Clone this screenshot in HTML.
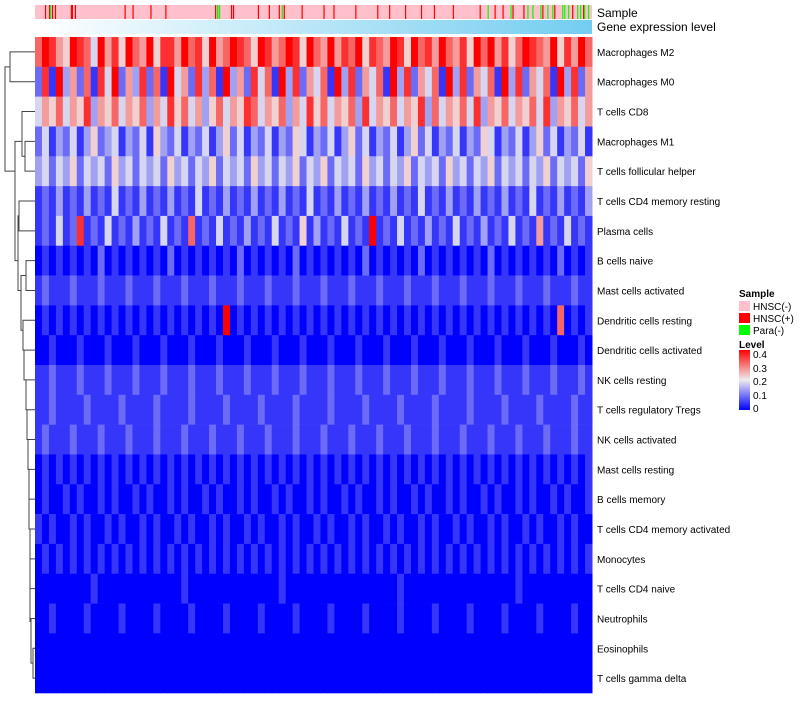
<!DOCTYPE html>
<html><head><meta charset="utf-8"><style>
body{margin:0;background:#fff;font-family:"Liberation Sans",sans-serif}
svg text{font-family:"Liberation Sans",sans-serif}
</style></head><body>
<svg id="c" width="800" height="700" xmlns="http://www.w3.org/2000/svg">
<defs>
<linearGradient id="gexp" x1="0" x2="1"><stop offset="0" stop-color="#ffffff"/><stop offset="1" stop-color="#73cdf0"/></linearGradient>
<linearGradient id="lvl" x1="0" x2="0" y1="1" y2="0"><stop offset="0" stop-color="#0000ff"/><stop offset="0.5" stop-color="#eeeeee"/><stop offset="1" stop-color="#ff0000"/></linearGradient>
</defs>
<g id="cells"></g>
<g id="samp"></g>
<rect x="35" y="20" width="557" height="14" fill="url(#gexp)"/>
<text x="597" y="17" font-size="12">Sample</text>
<text x="597" y="31" font-size="12">Gene expression level</text>
<g id="labels"></g>
<g id="dend" fill="none" stroke="#444" stroke-width="1"></g>
<g font-size="10">
<text x="739" y="297" font-weight="bold">Sample</text>
<rect x="739" y="301" width="11" height="10" fill="#ffc0cb"/><text x="753" y="310">HNSC(-)</text>
<rect x="739" y="313" width="11" height="10" fill="#ff0000"/><text x="753" y="322">HNSC(+)</text>
<rect x="739" y="325" width="11" height="10" fill="#00ff00"/><text x="753" y="334">Para(-)</text>
<text x="739" y="348" font-weight="bold">Level</text>
<rect x="739" y="350" width="11" height="60" fill="url(#lvl)"/>
<text x="753" y="358">0.4</text><text x="753" y="372">0.3</text><text x="753" y="385">0.2</text><text x="753" y="399">0.1</text><text x="753" y="412">0</text>
</g>
</svg>
<script>
const rowNames=["Macrophages M2","Macrophages M0","T cells CD8","Macrophages M1","T cells follicular helper","T cells CD4 memory resting","Plasma cells","B cells naive","Mast cells activated","Dendritic cells resting","Dendritic cells activated","NK cells resting","T cells regulatory  Tregs","NK cells activated","Mast cells resting","B cells memory","T cells CD4 memory activated","Monocytes","T cells CD4 naive","Neutrophils","Eosinophils","T cells gamma delta"];
// each digit d => level d*0.045
const rowLevels=[
"79865987496859769588697859679875986798597696879587698597869768597968579876958697",
"28193627184926382719462837193628471938264719382647193826471938264719382647193826",
"46574658365746573648574635746587465736485746573846574658374657483657465748365746",
"24132413523413241532413241352413241325413241352413241352413241325413241352413241",
"34243524342534243425342435243425342435243524342534243524342534243524342435243425",
"12131213121412131213121412131213121312141213121312131214121312131213121412131213",
"12141281214121312141217121412131214121513121412191214121312141213121412161214121",
"01010101020101010102010101010201010102010101010201010102010101010201010101020101",
"12111211121112111211121112111211121112111211121112111211121112111211121112111211",
"01010101010101010101010101090101010101010101010101010101010101010101010101070101",
"00100010001000100010001000100010001000100010001000100010001000100010001000100010",
"11211121112111211121112111211121112111211121112111211121112111211121112111211121",
"11211112111121111211112111121111211112111121111211112111121111211112111121111211",
"12111211121112111211121112111211121112111211121112111211121112111211121112111211",
"01010101010101010101010101010101010101010101010101010101010101010101010101010101",
"01001010010100101001010010100101001010010100101001010010100101001010010100101001",
"10100101001010010100101001010010100101001010010100101001010010100101001010010100",
"01010101010101010101010101010101010101010101010101010101010101010101010101010101",
"00000000100000000000010000000000000100000000000000001000000000000000010000000000",
"00100001000010000100001000010000100001000010000100001000010000100001000010000100",
"00000000000000000000000000000000000000000000000000000000000000000000000000000000",
"00000000000000000000000000000000000000000000000000000000000000000000000000000000"];
const sampleCount=560;
const hnscPosIdx=[10,14,17,20,36,37,40,90,98,116,131,181,183,197,199,224,235,245,250,268,290,300,322,344,356,372,388,401,420,447,462,470,480,491,510,522,540,551];
const paraIdx=[15,183,185,248,455,478,495,500,508,515,520,530,532,536,545,548,552,556];
const X0=35,X1=592,Y0=37,Y1=693;
const NS="http://www.w3.org/2000/svg";
function col(v){let t=Math.max(0,Math.min(0.4,v))/0.4;let r,g,b;
 if(t<0.5){const u=t/0.5;r=Math.round(238*u);g=Math.round(238*u);b=Math.round(255-17*u);}
 else{const u=(t-0.5)/0.5;r=Math.round(238+17*u);g=Math.round(238*(1-u));b=Math.round(238*(1-u));}
 return `rgb(${r},${g},${b})`;}
const rh=(Y1-Y0)/rowNames.length;
const yScale=i=>Y0+i*rh;
const cells=document.getElementById('cells');
rowLevels.forEach((s,i)=>{const n=s.length,cw=(X1-X0)/n;
 for(let j=0;j<n;j++){const r=document.createElementNS(NS,'rect');
  r.setAttribute('x',X0+j*cw);r.setAttribute('y',yScale(i));r.setAttribute('width',cw+0.5);r.setAttribute('height',rh+0.3);
  r.setAttribute('fill',col(+s[j]*0.045));
  
  
  cells.appendChild(r);}
 const t=document.createElementNS(NS,'text');t.setAttribute('x',597);t.setAttribute('y',yScale(i)+rh/2+4);t.setAttribute('font-size','10');t.textContent=rowNames[i];
 
 
 document.getElementById('labels').appendChild(t);});
const samp=document.getElementById('samp');
const bg=document.createElementNS(NS,'rect');bg.setAttribute('x',X0);bg.setAttribute('y',5);bg.setAttribute('width',X1-X0);bg.setAttribute('height',14);bg.setAttribute('fill','#ffc0cb');


samp.appendChild(bg);
const sx=k=>X0+k*(X1-X0)/sampleCount;
[[hnscPosIdx,'#ff0000'],[paraIdx,'#00ff00']].forEach(([arr,c])=>arr.forEach(k=>{const r=document.createElementNS(NS,'rect');
 r.setAttribute('x',sx(k));r.setAttribute('y',5);r.setAttribute('width',1.2);r.setAttribute('height',14);r.setAttribute('fill',c);
 
 
 samp.appendChild(r);}));
// dendrogram (approximate)
const d=document.getElementById('dend');
const cy=i=>yScale(i)+rh/2;
const segs=[
[`M35 ${cy(0)}H10V${cy(1)}H35`],
[`M35 ${cy(3)}H25V${cy(4)}H35`],[`M35 ${cy(2)}H22V${(cy(3)+cy(4))/2}H25`],
[`M35 ${cy(7)}H26V${cy(8)}H35`],[`M35 ${cy(5)}H19V${cy(6)}H35`],
[`M35 ${cy(20)}H33V${cy(21)}H35`],[`M35 ${cy(19)}H31V${(cy(20)+cy(21))/2}H33`],
[`M35 ${cy(18)}H30V${cy(19)+3}H31`],[`M35 ${cy(17)}H30V${cy(18)+3}`],
[`M35 ${cy(16)}H30V${cy(17)}`],[`M35 ${cy(15)}H29V${cy(16)}H30`],
[`M35 ${cy(14)}H29V${cy(15)}`],[`M35 ${cy(13)}H28V${cy(14)}H29`],
[`M35 ${cy(12)}H27V${cy(13)}H28`],[`M35 ${cy(11)}H26V${cy(12)}H27`],
[`M35 ${cy(10)}H24V${cy(11)}H26`],[`M35 ${cy(9)}H23V${cy(10)}H24`],
[`M26 ${(cy(7)+cy(8))/2}H21V${cy(9)+10}H23`],
[`M19 ${(cy(5)+cy(6))/2}H18V${cy(8)}H21`],
[`M22 ${cy(3)}H15V${cy(7)}H18`],
[`M10 ${(cy(0)+cy(1))/2}H5V${cy(4)}H15`]];
segs.forEach(s=>{const p=document.createElementNS(NS,'path');p.setAttribute('d',s[0]);
 
 
 d.appendChild(p);});
</script>
</body></html>
